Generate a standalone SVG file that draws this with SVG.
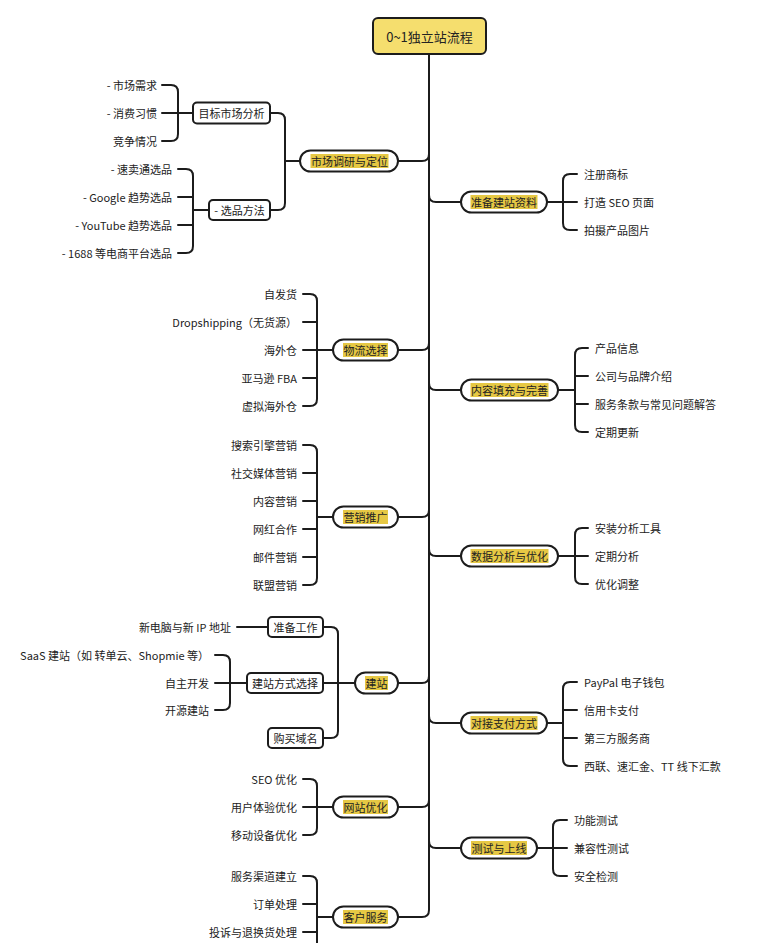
<svg xmlns="http://www.w3.org/2000/svg" width="765" height="943" viewBox="0 0 765 943">
<style>
.ln{fill:none;stroke:#1c1c1c;stroke-width:2;stroke-linecap:round}
.pill{fill:#fff;stroke:#1c1c1c;stroke-width:2}
.box{fill:#fff;stroke:#1c1c1c;stroke-width:2}
.hl{fill:#e6c844}
text{font-family:"Noto Sans CJK SC","Noto Sans",sans-serif;font-size:11px;fill:#222;dominant-baseline:central}
.m{text-anchor:middle}
.e{text-anchor:end}
</style>
<rect width="765" height="943" fill="#fff"/>
<g id="connectors">
<path class="ln" d="M429,54 L429,910 Q429,917 422,917 L398,917"/>
<path class="ln" d="M429,154 Q429,161 422,161 L398,161"/>
<path class="ln" d="M429,343 Q429,350 422,350 L398,350"/>
<path class="ln" d="M429,510 Q429,517 422,517 L398,517"/>
<path class="ln" d="M429,676 Q429,683 422,683 L398,683"/>
<path class="ln" d="M429,800 Q429,807 422,807 L398,807"/>
<path class="ln" d="M429,195 Q429,202 436,202 L461,202"/>
<path class="ln" d="M429,383 Q429,390 436,390 L461,390"/>
<path class="ln" d="M429,549 Q429,556 436,556 L461,556"/>
<path class="ln" d="M429,716 Q429,723 436,723 L461,723"/>
<path class="ln" d="M429,841 Q429,848 436,848 L461,848"/>
<path class="ln" d="M577,174 L570,174 Q563,174 563,181 L563,223 Q563,230 570,230 L577,230 M563,202 L577,202 M547,202 L563,202"/>
<path class="ln" d="M588,348 L582,348 Q575,348 575,355 L575,425 Q575,432 582,432 L588,432 M575,376 L588,376 M575,404 L588,404 M558,390 L575,390"/>
<path class="ln" d="M588,528 L582,528 Q575,528 575,535 L575,577 Q575,584 582,584 L588,584 M558,556 L588,556"/>
<path class="ln" d="M577,682 L570,682 Q563,682 563,689 L563,759 Q563,766 570,766 L577,766 M563,710 L577,710 M563,738 L577,738 M547,723 L563,723"/>
<path class="ln" d="M567,820 L560,820 Q553,820 553,827 L553,869 Q553,876 560,876 L567,876 M537,848 L567,848"/>
<path class="ln" d="M270,113 L278,113 Q285,113 285,120 L285,203 Q285,210 278,210 L270,210 M300,161 L285,161"/>
<path class="ln" d="M162,85 L171,85 Q178,85 178,92 L178,134 Q178,141 171,141 L162,141 M162,113 L193,113"/>
<path class="ln" d="M178,169 L186,169 Q193,169 193,176 L193,246 Q193,253 186,253 L178,253 M178,197 L193,197 M178,225 L193,225 M193,210 L209,210"/>
<path class="ln" d="M303,294 L310,294 Q317,294 317,301 L317,399 Q317,406 310,406 L303,406 M303,322 L317,322 M303,350 L333,350 M303,378 L317,378"/>
<path class="ln" d="M303,445 L310,445 Q317,445 317,452 L317,578 Q317,585 310,585 L303,585 M303,473 L317,473 M303,501 L317,501 M303,529 L317,529 M303,557 L317,557 M317,517 L333,517"/>
<path class="ln" d="M323,627 L331,627 Q338,627 338,634 L338,731 Q338,738 331,738 L323,738 M323,683 L355,683"/>
<path class="ln" d="M237,627 L268,627"/>
<path class="ln" d="M215,655 L223,655 Q230,655 230,662 L230,703 Q230,710 223,710 L215,710 M215,683 L247,683"/>
<path class="ln" d="M303,779 L310,779 Q317,779 317,786 L317,828 Q317,835 310,835 L303,835 M303,807 L333,807"/>
<path class="ln" d="M303,876 L310,876 Q317,876 317,883 L317,950 M303,904 L317,904 M303,932 L317,932 M317,917 L333,917"/>
</g>
<g id="root">
<rect x="373" y="18" width="113" height="36" rx="5" fill="#f5de6e" stroke="#1c1c1c" stroke-width="2"/>
<text class="m" x="429.5" y="36" style="font-size:13px">0~1独立站流程</text>
</g>
<g id="n-market">
<rect class="pill" x="300" y="150.5" width="98" height="21" rx="10.5"/>
<rect class="hl" x="310.5" y="154" width="78" height="14"/>
<text class="m" x="349.5" y="161">市场调研与定位</text>
</g>
<g id="n-target">
<rect class="box" x="193" y="102.5" width="77" height="21" rx="4"/>
<text class="m" x="231.5" y="113">目标市场分析</text>
<text class="e" x="157" y="85">- 市场需求</text>
<text class="e" x="157" y="113">- 消费习惯</text>
<text class="e" x="157" y="141">竞争情况</text>
</g>
<g id="n-select">
<rect class="box" x="209" y="200" width="61" height="20" rx="4"/>
<text class="m" x="239.5" y="210">- 选品方法</text>
<text class="e" x="172" y="169">- 速卖通选品</text>
<text class="e" x="172" y="197">- Google 趋势选品</text>
<text class="e" x="172" y="225">- YouTube 趋势选品</text>
<text class="e" x="172" y="253">- 1688 等电商平台选品</text>
</g>
<g id="n-logistics">
<rect class="pill" x="333" y="339.5" width="65" height="21" rx="10.5"/>
<rect class="hl" x="343" y="343" width="45" height="14"/>
<text class="m" x="365.5" y="350">物流选择</text>
<text class="e" x="297" y="294">自发货</text>
<text class="e" x="297" y="322">Dropshipping（无货源）</text>
<text class="e" x="297" y="350">海外仓</text>
<text class="e" x="297" y="378">亚马逊 FBA</text>
<text class="e" x="297" y="406">虚拟海外仓</text>
</g>
<g id="n-marketing">
<rect class="pill" x="333" y="506.5" width="65" height="21" rx="10.5"/>
<rect class="hl" x="343" y="510" width="45" height="14"/>
<text class="m" x="365.5" y="517">营销推广</text>
<text class="e" x="297" y="445">搜索引擎营销</text>
<text class="e" x="297" y="473">社交媒体营销</text>
<text class="e" x="297" y="501">内容营销</text>
<text class="e" x="297" y="529">网红合作</text>
<text class="e" x="297" y="557">邮件营销</text>
<text class="e" x="297" y="585">联盟营销</text>
</g>
<g id="n-build">
<rect class="pill" x="355" y="672.5" width="43" height="21" rx="10.5"/>
<rect class="hl" x="365" y="676" width="23" height="14"/>
<text class="m" x="376.5" y="683">建站</text>
</g>
<g id="n-prepare">
<rect class="box" x="268" y="617" width="55" height="20" rx="4"/>
<text class="m" x="295.5" y="627">准备工作</text>
<text class="e" x="231" y="627">新电脑与新 IP 地址</text>
</g>
<g id="n-method">
<rect class="box" x="247" y="673" width="76" height="20" rx="4"/>
<text class="m" x="285" y="683">建站方式选择</text>
<text class="e" x="209" y="655">SaaS 建站（如 转单云、Shopmie 等）</text>
<text class="e" x="209" y="683">自主开发</text>
<text class="e" x="209" y="710">开源建站</text>
</g>
<g id="n-domain">
<rect class="box" x="268" y="728" width="55" height="20" rx="4"/>
<text class="m" x="295.5" y="738">购买域名</text>
</g>
<g id="n-siteopt">
<rect class="pill" x="333" y="796.5" width="65" height="21" rx="10.5"/>
<rect class="hl" x="343" y="800" width="45" height="14"/>
<text class="m" x="365.5" y="807">网站优化</text>
<text class="e" x="297" y="779">SEO 优化</text>
<text class="e" x="297" y="807">用户体验优化</text>
<text class="e" x="297" y="835">移动设备优化</text>
</g>
<g id="n-service">
<rect class="pill" x="333" y="906.5" width="65" height="21" rx="10.5"/>
<rect class="hl" x="343" y="910" width="45" height="14"/>
<text class="m" x="365.5" y="917">客户服务</text>
<text class="e" x="297" y="876">服务渠道建立</text>
<text class="e" x="297" y="904">订单处理</text>
<text class="e" x="297" y="932">投诉与退换货处理</text>
</g>
<g id="n-materials">
<rect class="pill" x="461" y="191.5" width="86" height="21" rx="10.5"/>
<rect class="hl" x="470.5" y="195" width="67" height="14"/>
<text class="m" x="504" y="202">准备建站资料</text>
<text x="584" y="174">注册商标</text>
<text x="584" y="202">打造 SEO 页面</text>
<text x="584" y="230">拍摄产品图片</text>
</g>
<g id="n-content">
<rect class="pill" x="461" y="379.5" width="97" height="21" rx="10.5"/>
<rect class="hl" x="470.5" y="383" width="78" height="14"/>
<text class="m" x="509.5" y="390">内容填充与完善</text>
<text x="595" y="348">产品信息</text>
<text x="595" y="376">公司与品牌介绍</text>
<text x="595" y="404">服务条款与常见问题解答</text>
<text x="595" y="432">定期更新</text>
</g>
<g id="n-data">
<rect class="pill" x="461" y="545.5" width="97" height="21" rx="10.5"/>
<rect class="hl" x="470.5" y="549" width="78" height="14"/>
<text class="m" x="509.5" y="556">数据分析与优化</text>
<text x="595" y="528">安装分析工具</text>
<text x="595" y="556">定期分析</text>
<text x="595" y="584">优化调整</text>
</g>
<g id="n-payment">
<rect class="pill" x="461" y="712.5" width="86" height="21" rx="10.5"/>
<rect class="hl" x="470.5" y="716" width="67" height="14"/>
<text class="m" x="504" y="723">对接支付方式</text>
<text x="584" y="682">PayPal 电子钱包</text>
<text x="584" y="710">信用卡支付</text>
<text x="584" y="738">第三方服务商</text>
<text x="584" y="766">西联、速汇金、TT 线下汇款</text>
</g>
<g id="n-test">
<rect class="pill" x="461" y="837.5" width="76" height="21" rx="10.5"/>
<rect class="hl" x="471" y="841" width="56" height="14"/>
<text class="m" x="499" y="848">测试与上线</text>
<text x="574" y="820">功能测试</text>
<text x="574" y="848">兼容性测试</text>
<text x="574" y="876">安全检测</text>
</g>
</svg>
